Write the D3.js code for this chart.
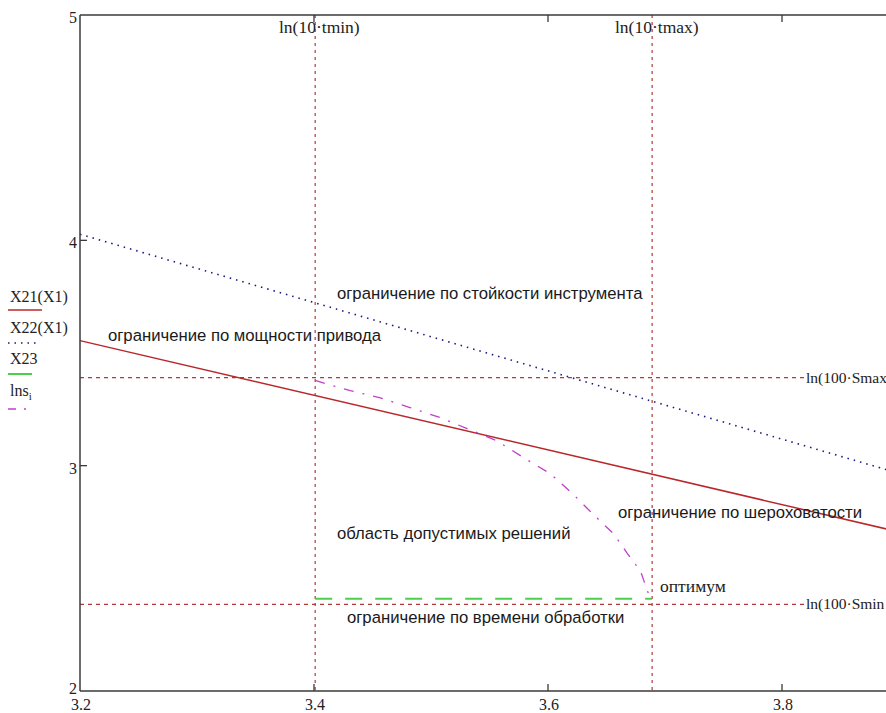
<!DOCTYPE html>
<html>
<head>
<meta charset="utf-8">
<script src="https://cdn.jsdelivr.net/npm/d3@7"></script>
<style>
  body { margin: 0; background: #fff; }
  svg { display: block; }
</style>
</head>
<body>
<div id="chart"></div>
<script>
// values
var xTicks = [3.2, 3.4, 3.6, 3.8];
var yTicks = [2, 3, 4, 5];
var x1 = [3.2, 3.9];
var x21 = [3.555, 2.706];          // ограничение по мощности привода
var x22 = [4.027, 2.966];          // ограничение по стойкости инструмента
var x23X = [3.401, 3.689];
var x23 = [2.409, 2.409];          // ограничение по времени обработки
var lnsX = [3.401, 3.431, 3.456, 3.482, 3.508, 3.531, 3.556, 3.579, 3.602, 3.621, 3.638, 3.656, 3.668, 3.679, 3.686];
var lnsY = [3.378, 3.333, 3.302, 3.258, 3.213, 3.164, 3.111, 3.036, 2.964, 2.876, 2.787, 2.698, 2.609, 2.533, 2.430];
var tLimits = [3.401, 3.689];      // ln(10 tmin), ln(10 tmax)
var sLimits = [3.391, 2.384];      // ln(100 Smax), ln(100 Smin)
var legendNames = ["X21(X1)", "X22(X1)", "X23", "lns"];

var W = 886, H = 713;
var serif = "'Liberation Serif', 'Times New Roman', serif";
var sans = "'Liberation Sans', Arial, sans-serif";

var svg = d3.select("#chart").append("svg")
  .attr("width", W).attr("height", H);

var x = d3.scaleLinear().domain([3.2, 3.9]).range([80, 899]);
var y = d3.scaleLinear().domain([2, 5]).range([691, 15]);

var plot = svg.append("g");

// reference lines
tLimits.forEach(function(v) {
  plot.append("line")
    .attr("x1", x(v)).attr("x2", x(v))
    .attr("y1", y(5)).attr("y2", y(2))
    .style("stroke", "#b03a3a").style("stroke-width", 1.2)
    .style("stroke-dasharray", "3 4");
});
sLimits.forEach(function(v) {
  plot.append("line")
    .attr("x1", x(3.2)).attr("x2", 806)
    .attr("y1", y(v)).attr("y2", y(v))
    .style("stroke", "#b03a3a").style("stroke-width", 1.2)
    .style("stroke-dasharray", "4 4");
});

var line = d3.line()
  .x(function(d) { return x(d[0]); })
  .y(function(d) { return y(d[1]); });

// X21
plot.append("path")
  .datum(d3.zip(x1, x21))
  .attr("fill", "none").attr("stroke", "#b8282a").attr("stroke-width", 1.5)
  .attr("d", line);

// X22
plot.append("path")
  .datum(d3.zip(x1, x22))
  .attr("fill", "none").attr("stroke", "#1a1a80").attr("stroke-width", 1.6)
  .style("stroke-dasharray", "1.5 5")
  .attr("d", line);

// X23
plot.append("path")
  .datum(d3.zip(x23X, x23))
  .attr("fill", "none").attr("stroke", "#4ccf4c").attr("stroke-width", 2)
  .style("stroke-dasharray", "17 13")
  .attr("d", line);

// lns_i
plot.append("path")
  .datum(d3.zip(lnsX, lnsY))
  .attr("fill", "none").attr("stroke", "#c040c8").attr("stroke-width", 1.3)
  .style("stroke-dasharray", "10 9 2 9")
  .attr("d", line);

// axes frame
var axisCol = "#3a3a3a";
plot.append("line").attr("x1", x(3.2)).attr("x2", W).attr("y1", y(5)).attr("y2", y(5))
  .style("stroke", axisCol).style("stroke-width", 1.5);
plot.append("line").attr("x1", x(3.2)).attr("x2", W).attr("y1", y(2)).attr("y2", y(2))
  .style("stroke", axisCol).style("stroke-width", 1.5);
plot.append("line").attr("x1", x(3.2)).attr("x2", x(3.2)).attr("y1", y(5)).attr("y2", y(2))
  .style("stroke", axisCol).style("stroke-width", 1.5);

// ticks, drawn inward
xTicks.slice(1).forEach(function(v) {
  plot.append("line").attr("x1", x(v)).attr("x2", x(v)).attr("y1", y(2)).attr("y2", y(2) - 7)
    .style("stroke", axisCol).style("stroke-width", 1.3);
  plot.append("line").attr("x1", x(v)).attr("x2", x(v)).attr("y1", y(5)).attr("y2", y(5) + 7)
    .style("stroke", axisCol).style("stroke-width", 1.3);
});
yTicks.slice(1, 3).forEach(function(v) {
  plot.append("line").attr("x1", x(3.2)).attr("x2", x(3.2) + 7).attr("y1", y(v)).attr("y2", y(v))
    .style("stroke", axisCol).style("stroke-width", 1.3);
});

// tick labels
svg.selectAll(".xl").data(xTicks).enter().append("text")
  .attr("x", function(d) { return x(d) + 1; }).attr("y", 710)
  .attr("text-anchor", "middle")
  .style("font-family", serif).style("font-size", "16px").style("fill", "#222")
  .text(function(d) { return d3.format(".1f")(d); });
svg.selectAll(".yl").data(yTicks).enter().append("text")
  .attr("x", 77).attr("y", function(d) { return d === 2 ? y(d) + 3 : y(d) + 8; })
  .attr("text-anchor", "end")
  .style("font-family", serif).style("font-size", "16px").style("fill", "#222")
  .text(function(d) { return d; });

// reference line labels
function serifText(tx, ty, s, fs) {
  return svg.append("text").attr("x", tx).attr("y", ty)
    .style("font-family", serif).style("font-size", (fs || 17.5) + "px").style("fill", "#222")
    .text(s);
}
serifText(279, 33, "ln(10·tmin)");
serifText(615, 33, "ln(10·tmax)");
serifText(806, 383, "ln(100·Smax", 15.5);
serifText(806, 609, "ln(100·Smin", 15.5);
serifText(660, 592, "оптимум");

// annotations
function sansText(tx, ty, s) {
  return svg.append("text").attr("x", tx).attr("y", ty)
    .style("font-family", sans).style("font-size", "16.7px").style("fill", "#1a1a1a")
    .text(s);
}
sansText(337, 299, "ограничение по стойкости инструмента");
sansText(108, 341, "ограничение по мощности привода");
sansText(618, 518, "ограничение по шероховатости");
sansText(337, 539, "область допустимых решений");
sansText(347, 623, "ограничение по времени обработки");

// legend
var legY = [302, 333, 364, 396];
var legLine = [
  { col: "#b8282a", dash: null, w: 1.5, len: 34, dy: 8 },
  { col: "#1a1a80", dash: "1.5 5", w: 1.6, len: 28, dy: 10 },
  { col: "#4ccf4c", dash: null, w: 2, len: 24, dy: 10 },
  { col: "#c040c8", dash: "8 8 2 8", w: 1.3, len: 26, dy: 13 }
];
legendNames.forEach(function(n, i) {
  var t = svg.append("text").attr("x", 10).attr("y", legY[i])
    .style("font-family", serif).style("font-size", "16px").style("fill", "#222")
    .text(n);
  if (n === "lns") {
    t.append("tspan").attr("dy", 4).style("font-size", "11px").text("i");
  }
  var l = legLine[i];
  svg.append("line").attr("x1", 8).attr("x2", 8 + l.len)
    .attr("y1", legY[i] + l.dy).attr("y2", legY[i] + l.dy)
    .style("stroke", l.col).style("stroke-width", l.w)
    .style("stroke-dasharray", l.dash);
});
</script>
</body>
</html>
